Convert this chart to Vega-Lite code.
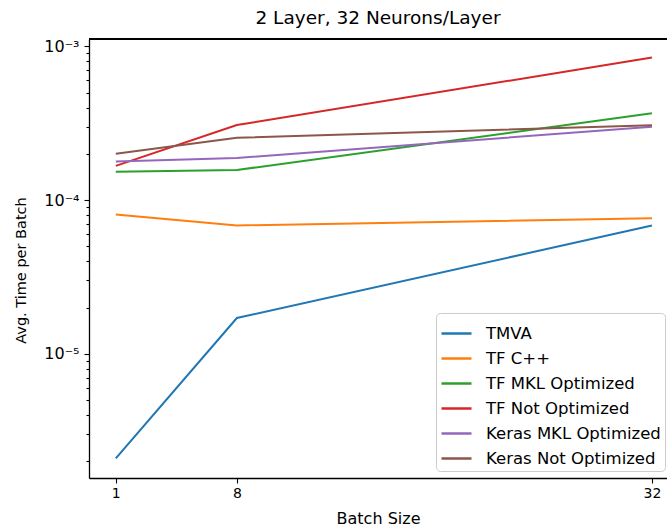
{
  "$schema": "https://vega.github.io/schema/vega-lite/v6.json",
  "width": 578,
  "height": 439,
  "autosize": "none",
  "padding": {"left": 89, "top": 39, "right": 0, "bottom": 49},
  "background": "white",
  "config": {
    "font": "DejaVu Sans",
    "view": {"stroke": null},
    "axis": {"labelFont": "DejaVu Sans", "titleFont": "DejaVu Sans", "labelFontSize": 14, "titleFontSize": 16, "titleFontWeight": "normal", "labelColor": "#000", "titleColor": "#000", "domainColor": "#000", "tickColor": "#000", "domainWidth": 1.3, "tickWidth": 1.1, "grid": false}
  },
  "title": {"text": "2 Layer, 32 Neurons/Layer", "font": "DejaVu Sans", "fontSize": 18.5, "fontWeight": "normal", "color": "#000", "anchor": "middle", "offset": 11},
  "data": {"values": [
    {"batch": 1, "series": "TMVA", "time": 2.09e-6},
    {"batch": 8, "series": "TMVA", "time": 1.71e-5},
    {"batch": 32, "series": "TMVA", "time": 6.83e-5},
    {"batch": 1, "series": "TF C++", "time": 8.07e-5},
    {"batch": 8, "series": "TF C++", "time": 6.84e-5},
    {"batch": 32, "series": "TF C++", "time": 7.61e-5},
    {"batch": 1, "series": "TF MKL Optimized", "time": 1.53e-4},
    {"batch": 8, "series": "TF MKL Optimized", "time": 1.57e-4},
    {"batch": 32, "series": "TF MKL Optimized", "time": 3.67e-4},
    {"batch": 1, "series": "TF Not Optimized", "time": 1.67e-4},
    {"batch": 8, "series": "TF Not Optimized", "time": 3.08e-4},
    {"batch": 32, "series": "TF Not Optimized", "time": 8.47e-4},
    {"batch": 1, "series": "Keras MKL Optimized", "time": 1.78e-4},
    {"batch": 8, "series": "Keras MKL Optimized", "time": 1.88e-4},
    {"batch": 32, "series": "Keras MKL Optimized", "time": 3.0e-4},
    {"batch": 1, "series": "Keras Not Optimized", "time": 2.0e-4},
    {"batch": 8, "series": "Keras Not Optimized", "time": 2.54e-4},
    {"batch": 32, "series": "Keras Not Optimized", "time": 3.07e-4}
  ]},
  "layer": [
    {
      "mark": {"type": "rule", "color": "#000", "strokeWidth": 1.3},
      "encoding": {"y": {"datum": 0.001117, "type": "quantitative", "scale": {"type": "log"}}}
    },
    {
      "mark": {"type": "line", "strokeWidth": 2, "clip": true},
      "encoding": {
        "x": {"field": "batch", "type": "quantitative", "title": "Batch Size",
          "scale": {"domain": [-0.55, 32.87], "nice": false, "zero": false},
          "axis": {"values": [1, 8, 32], "tickSize": 5, "labelPadding": 3, "titleY": 40, "titleBaseline": "middle"}},
        "y": {"field": "time", "type": "quantitative", "title": "Avg. Time per Batch",
          "scale": {"type": "log", "domain": [1.556e-6, 1.117e-3], "nice": false},
          "axis": {
            "values": [2e-6, 3e-6, 4e-6, 5e-6, 6e-6, 7e-6, 8e-6, 9e-6, 1e-5, 2e-5, 3e-5, 4e-5, 5e-5, 6e-5, 7e-5, 8e-5, 9e-5, 1e-4, 2e-4, 3e-4, 4e-4, 5e-4, 6e-4, 7e-4, 8e-4, 9e-4, 1e-3],
            "labelExpr": "abs(datum.value - 1e-3) < 1e-9 ? '10⁻³' : abs(datum.value - 1e-4) < 1e-10 ? '10⁻⁴' : abs(datum.value - 1e-5) < 1e-11 ? '10⁻⁵' : ''",
            "tickSize": {"condition": {"test": "abs(log(datum.value)/LN10 - round(log(datum.value)/LN10)) < 1e-6", "value": 5}, "value": 3},
            "labelPadding": 5,
            "labelFontSize": 16,
            "titleFontSize": 14.5,
            "titleX": -68, "titleY": 231, "titleBaseline": "middle", "titleAngle": -90
          }},
        "color": {"field": "series", "type": "nominal", "title": null,
          "scale": {"domain": ["TMVA", "TF C++", "TF MKL Optimized", "TF Not Optimized", "Keras MKL Optimized", "Keras Not Optimized"],
            "range": ["#1f77b4", "#ff7f0e", "#2ca02c", "#d62728", "#9467bd", "#8c564b"]},
          "legend": {"orient": "none", "legendX": 347, "legendY": 274, "symbolType": "stroke", "symbolSize": 900, "symbolStrokeWidth": 2.5,
            "labelFont": "DejaVu Sans", "labelFontSize": 16.5, "labelColor": "#000", "rowPadding": 0, "padding": 4,
            "strokeColor": "#cccccc", "fillColor": "rgba(255,255,255,0.8)", "cornerRadius": 4, "labelOffset": 13, "labelLimit": 300}}
      }
    }
  ]
}
